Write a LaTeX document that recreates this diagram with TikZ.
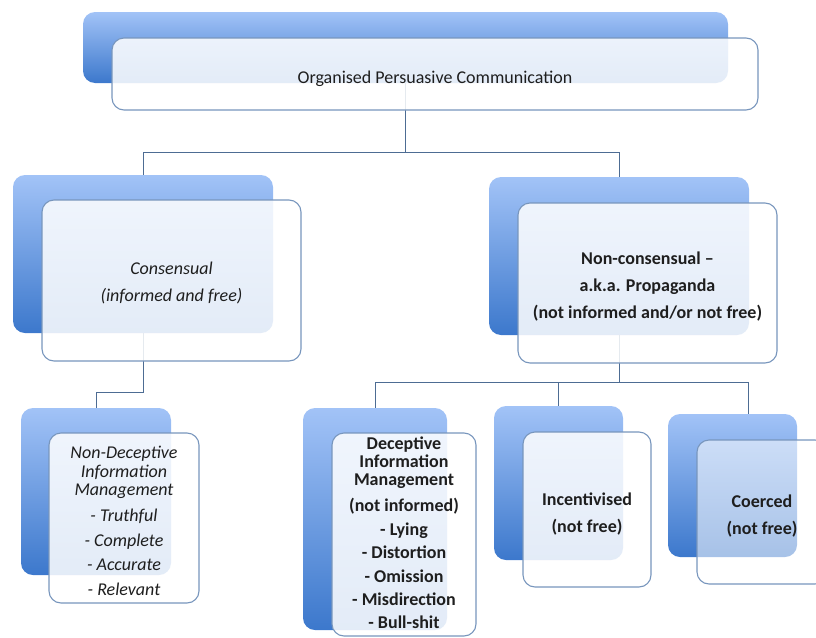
\documentclass[tikz,border=0pt]{standalone}
\usepackage{fontspec}
\setmainfont{Carlito}
\definecolor{backtop}{HTML}{A2C3F7}
\definecolor{backbot}{HTML}{3C78CC}
\definecolor{frameblue}{HTML}{7896BD}
\definecolor{connblue}{HTML}{4D6C93}
\definecolor{txt}{HTML}{1E1E1E}
\tikzset{
  backbox/.style={rounded corners=12pt, top color=backtop, bottom color=backbot, draw=none, inner sep=0pt, outer sep=0pt},
  frontbox/.style={rounded corners=12pt, draw=frameblue, line width=1.1pt, fill=white, fill opacity=0.86, inner sep=0pt, outer sep=0pt},
  label/.style={text=txt, inner sep=0pt, align=center, font=\fontsize{18}{27}\selectfont},
  conn/.style={draw=connblue, line width=1pt},
}
\begin{document}
\begin{tikzpicture}[x=1pt,y=-1pt]
\useasboundingbox (0,0) rectangle (816,637);
\clip (0,0) rectangle (816,637);
% back boxes
\node[backbox, minimum width=645pt, minimum height=71pt] (tb) at (405.5,47.5) {};
\node[backbox, minimum width=260pt, minimum height=158pt] (lb) at (143,254) {};
\node[backbox, minimum width=260pt, minimum height=158pt] (rb) at (619,256) {};
\node[backbox, minimum width=150pt, minimum height=167pt] (ndb) at (96,491.5) {};
\node[backbox, minimum width=144pt, minimum height=222pt] (db) at (375,519) {};
\node[backbox, minimum width=129pt, minimum height=154pt] (ib) at (558.5,483) {};
\node[backbox, minimum width=129pt, minimum height=143pt] (cb) at (732.5,485.5) {};
% connectors
\coordinate (j1) at (405.5,152);
\coordinate (j2) at (143,392);
\coordinate (j3) at (619,382);
\draw[conn] (tb.south) -- (j1) -| (lb.north);
\draw[conn] (j1) -| (rb.north);
\draw[conn] (lb.south) -- (j2) -| (ndb.north);
\draw[conn] (rb.south) -- (j3) -| (db.north);
\draw[conn] (j3) -| (ib.north);
\draw[conn] (j3) -| ([xshift=15.5pt]cb.north);
% front boxes
\node[frontbox, minimum width=646pt, minimum height=72pt] (tf) at (435,74) {};
\node[frontbox, minimum width=259pt, minimum height=161pt] (lf) at (171.5,280.5) {};
\node[frontbox, minimum width=259pt, minimum height=160pt] (rf) at (647.5,283) {};
\node[frontbox, minimum width=150pt, minimum height=170pt] (ndf) at (124,518) {};
\node[frontbox, minimum width=144pt, minimum height=203pt] (df) at (404,534.5) {};
\node[frontbox, minimum width=128pt, minimum height=155pt] (if) at (587,509.5) {};
\node[frontbox, minimum width=130pt, minimum height=144pt, fill opacity=0.55] (cf) at (762,512) {};
% texts
\node[label] (tft) at ([yshift=-4.5pt]tf.center) {Organised Persuasive Communication};
\node[label] (lft) at ([yshift=-2.5pt]lf.center) {\itshape Consensual\\\itshape (informed and free)};
\node[label] (rft) at ([yshift=-3.5pt]rf.center) {\bfseries Non-consensual --\\\bfseries a.k.a. Propaganda\\\bfseries (not informed and/or not free)};
\node[label, font=\fontsize{18}{18.5}\selectfont] (ndft) at ([yshift=-3pt]ndf.center) {\itshape Non-Deceptive\\\itshape Information\\\itshape Management\\[7pt]\itshape - Truthful\\[6.5pt]\itshape - Complete\\[6pt]\itshape - Accurate\\[6.5pt]\itshape - Relevant};
\node[label, font=\fontsize{18}{18}\selectfont] (dft) at ([yshift=2pt]df.center) {\bfseries Deceptive\\\bfseries Information\\\bfseries Management\\[8pt]\bfseries (not informed)\\[6.5pt]\bfseries - Lying\\[5pt]\bfseries - Distortion\\[6pt]\bfseries - Omission\\[5pt]\bfseries - Misdirection\\[5pt]\bfseries - Bull-shit};
\node[label] (ift) at ([yshift=-4.5pt]if.center) {\bfseries Incentivised\\\bfseries (not free)};
\node[label] (cft) at ([yshift=-4.5pt]cf.center) {\bfseries Coerced\\\bfseries (not free)};
\end{tikzpicture}
\end{document}
